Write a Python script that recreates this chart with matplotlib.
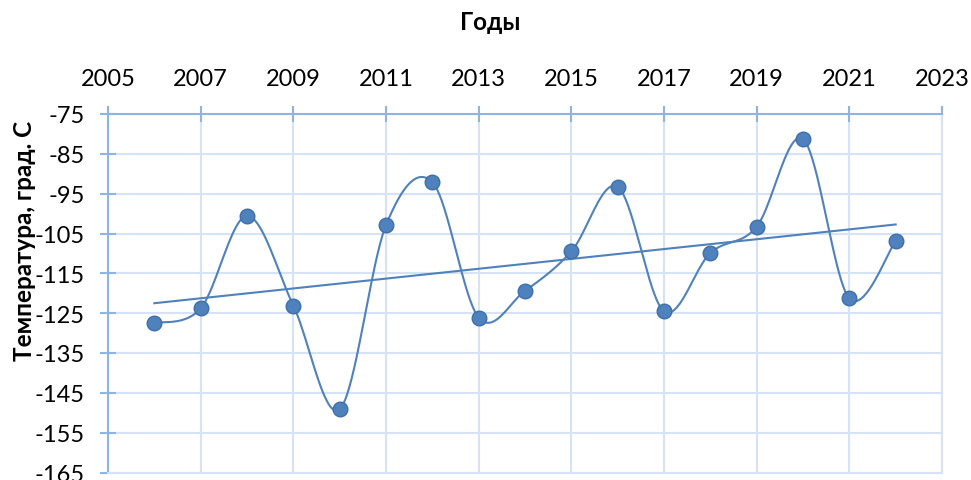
import matplotlib.pyplot as plt
import numpy as np

plt.rc('font', family=['Lato', 'DejaVu Sans'])
plt.rc('axes', unicode_minus=False)

years = np.arange(2006, 2023)
temps = [-127.5, -123.8, -100.6, -123.1, -149.1, -102.9, -92.1, -126.1, -119.4,
         -109.5, -93.3, -124.5, -109.9, -103.3, -81.3, -121.3, -106.8]

x_ticks = np.arange(2005, 2024, 2)
y_ticks = np.arange(-165, -74, 10)

blue = '#4F81BD'
grid_col = '#D6E3F4'
axis_col = '#8EB4E3'


def smooth(x, y, n=40):
    # cubic Bezier through each pair, tangents from neighbouring points
    x = np.asarray(x, float)
    y = np.asarray(y, float)
    px = np.concatenate([[x[0]], x, [x[-1]]])
    py = np.concatenate([[y[0]], y, [y[-1]]])
    xs, ys = [], []
    t = np.linspace(0, 1, n)
    for i in range(1, len(px) - 2):
        p0 = np.array([px[i], py[i]])
        p3 = np.array([px[i + 1], py[i + 1]])
        p1 = p0 + (p3 - np.array([px[i - 1], py[i - 1]])) / 6
        p2 = p3 - (np.array([px[i + 2], py[i + 2]]) - p0) / 6
        b = ((1 - t) ** 3)[:, None] * p0 + (3 * (1 - t) ** 2 * t)[:, None] * p1 \
            + (3 * (1 - t) * t ** 2)[:, None] * p2 + (t ** 3)[:, None] * p3
        xs.extend(b[:, 0])
        ys.extend(b[:, 1])
    return xs, ys


fig = plt.figure(figsize=(9.71, 4.81), dpi=100)
ax = fig.add_axes([108 / 971, 1 - 473.5 / 481, (942 - 108) / 971, (473.5 - 115) / 481])

sx, sy = smooth(years, temps)
ax.plot(sx, sy, color=blue, lw=1.5, zorder=3)
ax.plot(years, temps, 'o', color=blue, mec='#3F6FAA', mew=1, ms=10.5, zorder=4)

k, b = np.polyfit(years, temps, 1)
ax.plot(years[[0, -1]], k * years[[0, -1]] + b, color=blue, lw=1.5, zorder=3)

ax.set_xlim(2005, 2023)
ax.set_ylim(-165, -75)
ax.set_xticks(x_ticks)
ax.set_yticks(y_ticks)
ax.xaxis.tick_top()
ax.grid(True, color=grid_col, lw=1.5)
ax.set_axisbelow(True)

for side in ('top', 'left'):
    ax.spines[side].set_color(axis_col)
    ax.spines[side].set_linewidth(1.5)
for side in ('bottom', 'right'):
    ax.spines[side].set_color(grid_col)
    ax.spines[side].set_linewidth(1.5)

ax.tick_params(axis='x', direction='inout', length=12, width=1.5, color=axis_col,
               labelsize=17, pad=12)
ax.tick_params(axis='y', direction='inout', length=12, width=1.5, color=axis_col,
               labelsize=17, pad=11)

fig.text(490 / 971, 1 - 22 / 481, 'Годы', ha='center', va='center',
         fontsize=17.5, fontweight='bold')
fig.text(25 / 971, 1 - 241 / 481, 'Температура, град. С', ha='center', va='center',
         rotation=90, fontsize=17.5, fontweight='bold')

plt.savefig('out.png', dpi=100)
